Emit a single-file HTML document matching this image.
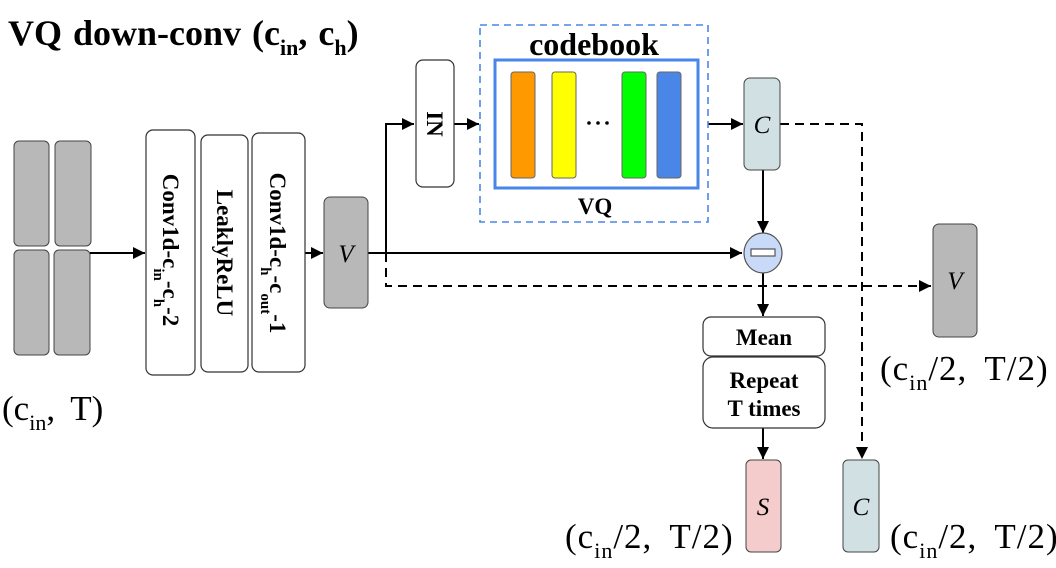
<!DOCTYPE html>
<html><head><style>
html,body{margin:0;padding:0;background:#fff;}
svg{display:block;}
text{font-family:"Liberation Serif",serif;}
</style></head><body>
<svg width="1056" height="568" viewBox="0 0 1056 568" xmlns="http://www.w3.org/2000/svg">
<defs>
<marker id="b" viewBox="0 0 10 10" refX="10" refY="5" markerWidth="12" markerHeight="12" markerUnits="userSpaceOnUse" orient="auto"><path d="M0,0 L10,5 L0,10 z" fill="#000"/></marker>
</defs>
<!-- title -->
<text x="8" y="45" font-size="36" font-weight="bold" word-spacing="2">VQ down-conv (c<tspan font-size="22" dy="10">in</tspan><tspan dy="-10">, c</tspan><tspan font-size="22" dy="10">h</tspan><tspan dy="-10">)</tspan></text>

<!-- input blocks -->
<g fill="#b8b8b8" stroke="#444" stroke-width="1">
<rect x="14" y="141" width="35" height="105" rx="5"/>
<rect x="55" y="141" width="36" height="105" rx="5"/>
<rect x="14" y="250" width="35" height="105" rx="5"/>
<rect x="54" y="250" width="36" height="105" rx="5"/>
</g>
<text x="2" y="420" font-size="35" word-spacing="7">(c<tspan font-size="22" dy="10">in</tspan><tspan dy="-10">, T)</tspan></text>

<g stroke="#000" stroke-width="2" fill="none">
<line x1="90" y1="253" x2="145" y2="253" marker-end="url(#b)"/>
<line x1="305" y1="253" x2="323" y2="253" marker-end="url(#b)"/>
<line x1="368" y1="253" x2="742" y2="253" marker-end="url(#b)"/>
<polyline points="386,253 386,124 414,124" marker-end="url(#b)"/>
<line x1="454" y1="124" x2="479" y2="124" marker-end="url(#b)"/>
<line x1="708" y1="124" x2="743" y2="124" marker-end="url(#b)"/>
<line x1="763" y1="170" x2="763" y2="233" marker-end="url(#b)"/>
<line x1="763" y1="272" x2="763" y2="316" marker-end="url(#b)"/>
<line x1="763" y1="428" x2="763" y2="459" marker-end="url(#b)"/>
</g>
<g stroke="#000" stroke-width="2" fill="none" stroke-dasharray="9,6">
<polyline points="386,253 386,286 931,286" marker-end="url(#b)"/>
<polyline points="780,124 862,124 862,459" marker-end="url(#b)"/>
</g>

<!-- conv boxes -->
<g fill="#fff" stroke="#333" stroke-width="1.2">
<rect x="146" y="130" width="49" height="245" rx="7"/>
<rect x="201" y="135" width="47" height="237" rx="7"/>
<rect x="252" y="133" width="53" height="239" rx="7"/>
</g>
<g font-weight="bold" font-size="23">
<text transform="translate(163,250) rotate(90)" text-anchor="middle">Conv1d-c<tspan font-size="15" dy="9">in</tspan><tspan dy="-9">-c</tspan><tspan font-size="15" dy="9">h</tspan><tspan dy="-9">-2</tspan></text>
<text transform="translate(217,253) rotate(90)" text-anchor="middle">LeaklyReLU</text>
<text transform="translate(270,253) rotate(90)" text-anchor="middle">Conv1d-c<tspan font-size="15" dy="9">h</tspan><tspan dy="-9">-c</tspan><tspan font-size="15" dy="9">out</tspan><tspan dy="-9">-1</tspan></text>
</g>

<!-- V -->
<rect x="324" y="197" width="44" height="111" rx="6" fill="#b8b8b8" stroke="#444"/>
<text x="346" y="262" font-size="25" font-style="italic" text-anchor="middle">V</text>

<!-- IN -->
<rect x="416" y="60" width="38" height="127" rx="7" fill="#fff" stroke="#333" stroke-width="1.2"/>
<text transform="translate(427,124) rotate(90)" text-anchor="middle" font-size="23" font-weight="bold">IN</text>

<!-- codebook -->
<rect x="480" y="25" width="228" height="197" fill="none" stroke="#4a86e8" stroke-width="1.6" stroke-dasharray="7,5"/>
<text x="594" y="55" font-size="32" font-weight="bold" text-anchor="middle">codebook</text>
<rect x="495" y="60" width="203" height="128" fill="none" stroke="#4a86e8" stroke-width="3"/>
<g stroke="#666" stroke-width="1">
<rect x="511" y="72" width="24" height="106" rx="3" fill="#ff9900"/>
<rect x="552" y="72" width="24" height="106" rx="3" fill="#ffff00"/>
<rect x="622" y="72" width="24" height="106" rx="3" fill="#00ff00"/>
<rect x="657" y="72" width="24" height="106" rx="3" fill="#4a86e8"/>
</g>
<g fill="#000"><circle cx="589" cy="123" r="1.8"/><circle cx="598" cy="123" r="1.8"/><circle cx="607" cy="123" r="1.8"/></g>
<text x="595" y="214" font-size="23" font-weight="bold" text-anchor="middle">VQ</text>

<!-- C top -->
<rect x="744" y="78" width="36" height="92" rx="6" fill="#d0e0e3" stroke="#444"/>
<text x="762" y="133" font-size="25" font-style="italic" text-anchor="middle">C</text>

<!-- minus circle -->
<ellipse cx="763" cy="253" rx="19" ry="20" fill="#c9daf8" stroke="#555" stroke-width="1.2"/>
<rect x="751" y="249" width="24" height="7" fill="#fff" stroke="#555" stroke-width="1.2"/>

<!-- Mean / Repeat -->
<rect x="703" y="317" width="122" height="39" rx="8" fill="#fff" stroke="#333" stroke-width="1.2"/>
<text x="764" y="345" font-size="23" font-weight="bold" text-anchor="middle">Mean</text>
<rect x="703" y="357" width="122" height="71" rx="10" fill="#fff" stroke="#333" stroke-width="1.2"/>
<text x="764" y="388" font-size="23" font-weight="bold" text-anchor="middle">Repeat</text>
<text x="764" y="416" font-size="23" font-weight="bold" text-anchor="middle">T times</text>

<!-- V right -->
<rect x="933" y="224" width="44" height="113" rx="6" fill="#b8b8b8" stroke="#444"/>
<text x="955" y="289" font-size="25" font-style="italic" text-anchor="middle">V</text>
<text x="880" y="380" font-size="35" word-spacing="8" letter-spacing="1">(c<tspan font-size="22" dy="10">in</tspan><tspan dy="-10">/2, T/2)</tspan></text>

<!-- S -->
<rect x="746" y="460" width="35" height="92" rx="5" fill="#f4cccc" stroke="#444"/>
<text x="763" y="515" font-size="25" font-style="italic" text-anchor="middle">S</text>
<text x="565" y="548" font-size="35" word-spacing="8" letter-spacing="1">(c<tspan font-size="22" dy="10">in</tspan><tspan dy="-10">/2, T/2)</tspan></text>

<!-- C bottom -->
<rect x="843" y="460" width="36" height="92" rx="5" fill="#d0e0e3" stroke="#444"/>
<text x="861" y="515" font-size="25" font-style="italic" text-anchor="middle">C</text>
<text x="890" y="548" font-size="35" word-spacing="8" letter-spacing="1">(c<tspan font-size="22" dy="10">in</tspan><tspan dy="-10">/2, T/2)</tspan></text>
</svg>
</body></html>
